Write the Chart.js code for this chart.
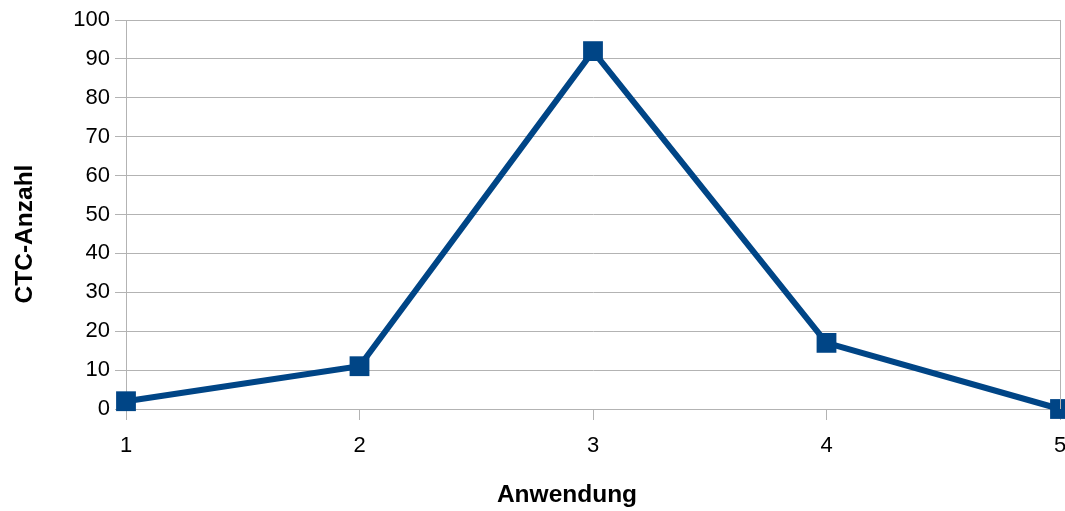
<!DOCTYPE html>
<html>
<head>
<meta charset="utf-8">
<script src="https://cdn.jsdelivr.net/npm/chart.js@4/dist/chart.umd.min.js"></script>
<style>
  html, body { margin: 0; padding: 0; background: #fff; }
  #wrap { width: 1065px; height: 511px; }
</style>
</head>
<body>
<div id="wrap"><canvas id="ctcChart"></canvas></div>
<script>
// Werte
const anwendungen = [1, 2, 3, 4, 5];
const ctcAnzahl = [2, 11, 92, 17, 0];
const yTicks = [0, 10, 20, 30, 40, 50, 60, 70, 80, 90, 100];
const xTitle = 'Anwendung';
const yTitle = 'CTC-Anzahl';

const lineColor = '#004586';
const gridColor = '#b3b3b3';
const titleFont = 'bold 24.5px "Liberation Sans"';

// rechter Rahmen + Achsentitel (wie im Original nicht auf die Fläche zentriert)
const extras = {
    id: 'extras',
    afterDraw(chart) {
        const a = chart.chartArea;
        const c = chart.ctx;
        c.save();
        c.strokeStyle = gridColor;
        c.lineWidth = 1;
        c.beginPath();
        c.moveTo(a.right + 0.5, a.top);
        c.lineTo(a.right + 0.5, a.bottom);
        c.stroke();

        c.fillStyle = '#000';
        c.font = titleFont;
        c.textAlign = 'center';
        c.textBaseline = 'alphabetic';
        c.fillText(xTitle, 567, 502);

        c.translate(32, 234);
        c.rotate(-Math.PI / 2);
        c.fillText(yTitle, 0, 0);
        c.restore();
    }
};

new Chart(document.getElementById('ctcChart'), {
    type: 'line',
    data: {
        datasets: [{
            data: anwendungen.map((x, i) => ({ x: x, y: ctcAnzahl[i] })),
            borderColor: lineColor,
            backgroundColor: lineColor,
            borderWidth: 6,
            pointStyle: 'rect',
            pointRadius: 14,
            pointHoverRadius: 14,
            pointBorderWidth: 0,
            tension: 0,
            clip: false
        }]
    },
    options: {
        responsive: true,
        maintainAspectRatio: false,
        animation: false,
        layout: { autoPadding: false, padding: { left: 0, right: 5, top: 20, bottom: 0 } },
        plugins: { legend: { display: false }, tooltip: { enabled: false } },
        scales: {
            x: {
                type: 'linear',
                min: 1,
                max: 5,
                afterBuildTicks: s => { s.ticks = anwendungen.map(v => ({ value: v })); },
                afterFit: s => { s.height = 102; s.paddingLeft = 0; s.paddingRight = 0; },
                grid: { drawOnChartArea: false, color: gridColor, tickLength: 11 },
                border: { display: false },
                ticks: { color: '#000', padding: 13, maxRotation: 0, font: { family: 'Liberation Sans', size: 22 } }
            },
            y: {
                min: 0,
                max: 100,
                afterBuildTicks: s => { s.ticks = yTicks.map(v => ({ value: v })); },
                afterFit: s => { s.width = 126; },
                grid: { color: gridColor, tickLength: 11 },
                border: { color: gridColor },
                ticks: { color: '#000', padding: 5, font: { family: 'Liberation Sans', size: 22 } }
            }
        }
    },
    plugins: [extras]
});
</script>
</body>
</html>
